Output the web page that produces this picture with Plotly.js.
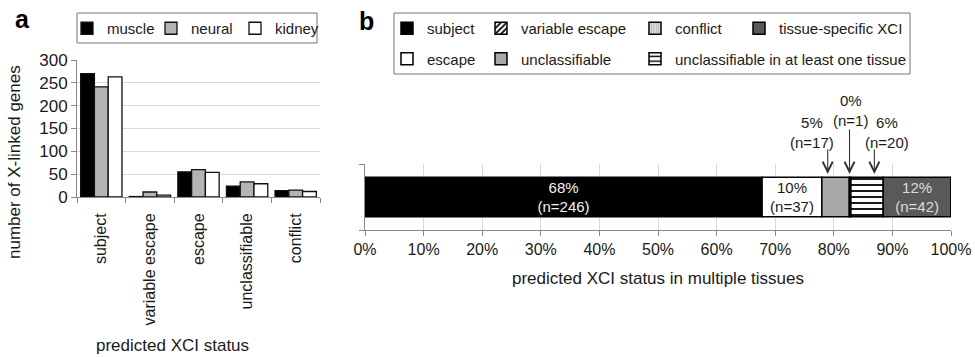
<!DOCTYPE html>
<html>
<head>
<meta charset="utf-8">
<script src="https://cdn.plot.ly/plotly-3.0.1.min.js"></script>
<style>
  html, body { margin: 0; padding: 0; background: #fff; }
  #chart { width: 975px; height: 357px; }
</style>
</head>
<body>
<div id="chart"></div>
<script>
// ---------- data: panel a ----------
const statusCategories = ['subject', 'variable escape', 'escape', 'unclassifiable', 'conflict'];
const tissueNames = ['muscle', 'neural', 'kidney'];
const muscleCounts = [270, 1, 55, 24, 14];
const neuralCounts = [241, 11, 60, 33, 15];
const kidneyCounts = [263, 4, 54, 29, 12];

// ---------- data: panel b ----------
const multiStatus = ['subject', 'escape', 'unclassifiable', 'conflict',
  'unclassifiable in at least one tissue', 'tissue-specific XCI', 'variable escape'];
const multiCounts = [246, 37, 17, 1, 20, 42, 0];
const labelledInBar = ['subject', 'escape', 'tissue-specific XCI'];

const pctTicks = [0, 0.1, 0.2, 0.3, 0.4, 0.5, 0.6, 0.7, 0.8, 0.9, 1.0];

// ---------- helpers ----------
const W = 975, H = 357;
const px = x => x / W;
const py = y => 1 - y / H;
const FONT = 'Liberation Sans, Arial, sans-serif';
const INK = '#1a1a1a';

// ---------- styles ----------
const tissueFill = { muscle: '#000000', neural: '#b4b4b4', kidney: '#ffffff' };
const multiStyle = {
  'subject': { color: '#000000', text: '#f2f2f2', legend: 'legend2', rank: 1 },
  'escape': { color: '#ffffff', text: '#1a1a1a', legend: 'legend2', rank: 2 },
  'variable escape': { color: '#ffffff', text: '#1a1a1a', legend: 'legend3', rank: 3,
    pattern: { shape: '/', fgcolor: '#000', bgcolor: '#fff', size: 5, solidity: 0.45 } },
  'unclassifiable': { color: '#a9a9a9', text: '#1a1a1a', legend: 'legend3', rank: 4 },
  'conflict': { color: '#d8d8d8', text: '#1a1a1a', legend: 'legend4', rank: 5,
    pattern: { shape: '|', fgcolor: '#b0b0b0', bgcolor: '#dedede', size: 3, solidity: 0.35 } },
  'unclassifiable in at least one tissue': { color: '#ffffff', text: '#1a1a1a', legend: 'legend4', rank: 6,
    pattern: { shape: '-', fgcolor: '#000', bgcolor: '#fff', size: 6, solidity: 0.3 } },
  'tissue-specific XCI': { color: '#595959', text: '#dcdcdc', legend: 'legend5', rank: 7 }
};

const traces = [];

// panel a: grouped bars
const tissueCounts = [muscleCounts, neuralCounts, kidneyCounts];
tissueNames.forEach((name, i) => {
  traces.push({
    type: 'bar',
    name: name,
    x: statusCategories,
    y: tissueCounts[i],
    xaxis: 'x', yaxis: 'y',
    legend: 'legend',
    marker: { color: tissueFill[name], line: { color: '#111', width: 1.3 } },
    hoverinfo: 'skip'
  });
});

// panel b: single stacked horizontal bar (explicit bases)
const total = multiCounts.reduce((a, b) => a + b, 0);
let cum = 0;
multiStatus.forEach((s, i) => {
  const frac = multiCounts[i] / total;
  const st = multiStyle[s];
  const txt = labelledInBar.includes(s)
    ? Math.round(frac * 100) + '%<br>(n=' + multiCounts[i] + ')' : '';
  const marker = { color: st.color, line: { color: '#000', width: 1.5 } };
  if (st.pattern) marker.pattern = st.pattern;
  traces.push({
    type: 'bar',
    orientation: 'h',
    name: s,
    y: [0],
    x: [frac],
    base: [cum],
    width: [0.6],
    offset: [-0.3],
    offsetgroup: 'b',
    xaxis: 'x2', yaxis: 'y2',
    legend: st.legend,
    legendgroup: s,
    legendrank: st.rank,
    marker: marker,
    text: [txt],
    textposition: 'inside',
    insidetextanchor: 'middle',
    constraintext: 'none',
    textfont: { family: FONT, size: 15, color: st.text },
    hoverinfo: 'skip'
  });
  cum += frac;
});

// cumulative bounds for arrow placement
const bounds = {};
{
  let c = 0;
  multiStatus.forEach((s, i) => { const f = multiCounts[i] / total; bounds[s] = [c, c + f]; c += f; });
}
const pctLabel = s => {
  const i = multiStatus.indexOf(s);
  return Math.round(multiCounts[i] / total * 100) + '%<br>(n=' + multiCounts[i] + ')';
};

const C = { xanchor: 'center', yanchor: 'middle', showarrow: false };
const annFont = { family: FONT, size: 15, color: INK };
const annotations = [
  Object.assign({ text: '<b>a</b>', x: px(22), y: py(19), xref: 'paper', yref: 'paper',
    font: { family: FONT, size: 25, color: '#000' } }, C),
  Object.assign({ text: '<b>b</b>', x: px(366), y: py(21), xref: 'paper', yref: 'paper',
    font: { family: FONT, size: 25, color: '#000' } }, C),
  Object.assign({ text: 'number of X-linked genes', x: px(15), y: py(162), xref: 'paper', yref: 'paper',
    textangle: -90, font: { family: FONT, size: 17, color: INK } }, C),
  Object.assign({ text: 'predicted XCI status', x: px(172), y: py(345), xref: 'paper', yref: 'paper',
    font: { family: FONT, size: 17, color: INK } }, C),
  Object.assign({ text: 'predicted XCI status in multiple tissues', x: px(658), y: py(278),
    xref: 'paper', yref: 'paper', font: { family: FONT, size: 17, color: INK } }, C),
  // arrow labels
  Object.assign({ text: pctLabel('unclassifiable'), x: bounds['unclassifiable'][0] - 0.016, y: py(132),
    xref: 'x2', yref: 'paper', font: annFont }, C),
  Object.assign({ text: pctLabel('conflict'), x: (bounds['conflict'][0] + bounds['conflict'][1]) / 2,
    y: py(110), xref: 'x2', yref: 'paper', font: annFont }, C),
  Object.assign({ text: pctLabel('unclassifiable in at least one tissue'),
    x: bounds['unclassifiable in at least one tissue'][1] + 0.007, y: py(132),
    xref: 'x2', yref: 'paper', font: annFont }, C)
];
// arrows
const arrowSpec = [
  [bounds['unclassifiable'][0] + 0.01, -26],
  [(bounds['conflict'][0] + bounds['conflict'][1]) / 2 - 0.001, -46],
  [bounds['unclassifiable in at least one tissue'][0] + 0.04, -26]
];
arrowSpec.forEach(([x, ay]) => {
  annotations.push({ text: '', x: x, y: py(174), xref: 'x2', yref: 'paper',
    showarrow: true, ax: 0, ay: ay, arrowhead: 5, arrowsize: 1.8, arrowwidth: 1.1, arrowcolor: '#333' });
});

const legendCommon = {
  bgcolor: 'rgba(0,0,0,0)', borderwidth: 0,
  font: { family: FONT, size: 15, color: INK },
  xanchor: 'left', yanchor: 'top', orientation: 'v', tracegroupgap: 8,
  traceorder: 'grouped'
};

const layout = {
  width: W, height: H,
  margin: { l: 0, r: 0, t: 0, b: 0 },
  paper_bgcolor: '#fff', plot_bgcolor: '#fff',
  font: { family: FONT, size: 15, color: INK },
  barmode: 'group',
  bargap: 0.15, bargroupgap: 0,
  showlegend: true,
  xaxis: {
    domain: [px(77), px(320)], anchor: 'y',
    type: 'category', tickson: 'boundaries',
    ticks: 'outside', ticklen: 5, tickcolor: '#888',
    showline: true, linecolor: '#888', linewidth: 1,
    showgrid: false, tickangle: -90, ticklabelstandoff: 9,
    tickfont: { family: FONT, size: 16, color: INK }
  },
  yaxis: {
    domain: [py(197), py(60)], anchor: 'x',
    range: [0, 300], dtick: 50,
    ticks: 'outside', ticklen: 5, tickcolor: '#888',
    showline: true, linecolor: '#888', linewidth: 1,
    showgrid: true, gridcolor: '#d9d9d9', zeroline: false,
    tickfont: { family: FONT, size: 17, color: INK }
  },
  xaxis2: {
    domain: [px(365), px(951)], anchor: 'y2',
    range: [0, 1], tickvals: pctTicks, tickformat: '.0%',
    ticks: 'outside', ticklen: 5, tickcolor: '#888',
    showline: true, linecolor: '#888', linewidth: 1,
    showgrid: true, gridcolor: '#d9d9d9', zeroline: false,
    tickfont: { family: FONT, size: 16, color: INK }
  },
  yaxis2: {
    domain: [py(230), py(164)], anchor: 'x2',
    range: [-0.5, 0.5], tickvals: [-0.5, 0.5], ticktext: ['', ''],
    ticks: 'outside', ticklen: 5, tickcolor: '#888',
    showline: true, linecolor: '#888', linewidth: 1,
    showgrid: false, zeroline: false
  },
  legend: {
    x: px(67), y: py(12), xanchor: 'left', yanchor: 'top',
    orientation: 'h', bgcolor: 'rgba(0,0,0,0)', borderwidth: 0,
    font: { family: FONT, size: 15, color: INK },
    entrywidth: 39, entrywidthmode: 'pixels', traceorder: 'normal'
  },
  legend2: Object.assign({}, legendCommon, { x: px(387), y: py(12) }),
  legend3: Object.assign({}, legendCommon, { x: px(481), y: py(12) }),
  legend4: Object.assign({}, legendCommon, { x: px(635), y: py(12) }),
  legend5: Object.assign({}, legendCommon, { x: px(739), y: py(12) }),
  shapes: [
    { type: 'rect', xref: 'paper', yref: 'paper', x0: px(77), x1: px(317), y0: py(43), y1: py(13),
      line: { color: '#777', width: 1 }, fillcolor: 'rgba(0,0,0,0)', layer: 'above' },
    { type: 'rect', xref: 'paper', yref: 'paper', x0: px(394), x1: px(910), y0: py(74), y1: py(13),
      line: { color: '#777', width: 1 }, fillcolor: 'rgba(0,0,0,0)', layer: 'above' }
  ],
  annotations: annotations
};

Plotly.newPlot('chart', traces, layout, { displayModeBar: false, staticPlot: true });
</script>
</body>
</html>
